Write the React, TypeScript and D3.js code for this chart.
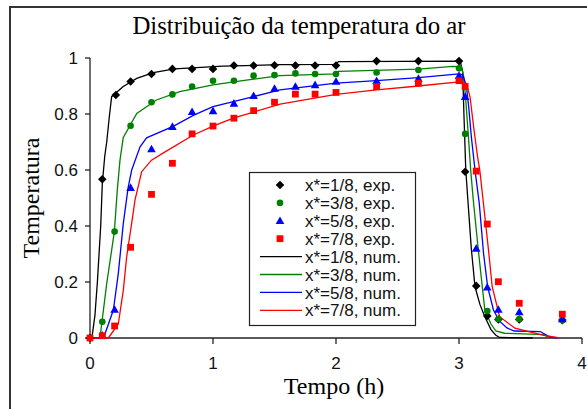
import React from "react";
import * as d3 from "d3";

// ---------- data ----------
const xTicks = [0, 1, 2, 3, 4];
const yTicks = [0, 0.2, 0.4, 0.6, 0.8, 1];
const yTickLabels = ["0", "0.2", "0.4", "0.6", "0.8", "1"];

const exp18: [number, number][] = [
  [0, 0], [0.1, 0.567], [0.21, 0.868], [0.33, 0.916], [0.5, 0.943], [0.67, 0.961], [0.83, 0.961],
  [1.0, 0.961], [1.17, 0.973], [1.33, 0.973], [1.5, 0.974], [1.67, 0.973], [1.83, 0.973], [2.0, 0.973],
  [2.33, 0.989], [2.67, 0.989], [3.0, 0.989], [3.05, 0.594], [3.14, 0.186], [3.23, 0.079],
  [3.32, 0.066], [3.49, 0.066], [3.84, 0.064],
];
const exp38: [number, number][] = [
  [0.1, 0.058], [0.2, 0.38], [0.33, 0.758], [0.5, 0.842], [0.67, 0.87], [0.83, 0.898], [1.0, 0.919],
  [1.17, 0.919], [1.33, 0.937], [1.5, 0.939], [1.67, 0.945], [1.83, 0.943], [2.0, 0.943], [2.33, 0.948],
  [2.67, 0.957], [3.0, 0.963], [3.05, 0.729], [3.23, 0.096], [3.32, 0.068], [3.49, 0.068], [3.84, 0.063],
];
const exp58: [number, number][] = [
  [0.1, 0.01], [0.2, 0.102], [0.33, 0.537], [0.5, 0.675], [0.67, 0.755], [0.83, 0.808], [1.0, 0.811],
  [1.17, 0.838], [1.33, 0.865], [1.5, 0.891], [1.67, 0.898], [1.83, 0.904], [2.0, 0.916], [2.33, 0.919],
  [2.67, 0.927], [3.0, 0.937], [3.05, 0.862], [3.14, 0.32], [3.23, 0.181], [3.32, 0.102], [3.49, 0.093],
  [3.84, 0.068],
];
const exp78: [number, number][] = [
  [0, 0], [0.1, 0.008], [0.2, 0.043], [0.33, 0.324], [0.5, 0.513], [0.67, 0.624], [0.83, 0.729],
  [1.0, 0.757], [1.17, 0.785], [1.33, 0.812], [1.5, 0.842], [1.67, 0.871], [1.83, 0.871], [2.0, 0.877],
  [2.33, 0.898], [2.67, 0.91], [3.0, 0.919], [3.05, 0.898], [3.14, 0.596], [3.23, 0.407], [3.32, 0.201],
  [3.49, 0.124], [3.84, 0.085],
];

const num18: [number, number][] = [
  [0, 0], [0.015, 0], [0.04, 0.08], [0.06, 0.2], [0.087, 0.4], [0.1, 0.55], [0.12, 0.65], [0.136, 0.7],
  [0.157, 0.79], [0.176, 0.862], [0.27, 0.898], [0.38, 0.927], [0.515, 0.948], [0.686, 0.961],
  [1.08, 0.971], [1.545, 0.976], [2.0, 0.977], [2.02, 0.987], [3.01, 0.989], [3.03, 0.95], [3.04, 0.8],
  [3.055, 0.6], [3.075, 0.475], [3.1, 0.32], [3.13, 0.183], [3.17, 0.12], [3.21, 0.076], [3.26, 0.03],
  [3.3, 0.01], [3.33, 0.002], [3.6, 0],
];
const num38: [number, number][] = [
  [0, 0], [0.081, 0], [0.136, 0.195], [0.176, 0.314], [0.198, 0.38], [0.222, 0.529], [0.244, 0.636],
  [0.27, 0.715], [0.38, 0.802], [0.54, 0.85], [0.73, 0.88], [1.0, 0.904], [1.27, 0.921], [1.545, 0.937],
  [2.0, 0.943], [2.02, 0.952], [2.67, 0.96], [2.95, 0.97], [3.02, 0.968], [3.04, 0.93], [3.055, 0.85],
  [3.075, 0.729], [3.095, 0.6], [3.116, 0.493], [3.157, 0.314], [3.21, 0.1], [3.26, 0.05], [3.3, 0.025],
  [3.37, 0.017], [3.7, 0.012], [3.72, 0],
];
const num58: [number, number][] = [
  [0, 0], [0.11, 0], [0.19, 0.1], [0.23, 0.23], [0.271, 0.41], [0.31, 0.537], [0.339, 0.6],
  [0.407, 0.683], [0.46, 0.715], [0.68, 0.757], [0.84, 0.795], [1.0, 0.826], [1.165, 0.844],
  [1.33, 0.862], [1.545, 0.886], [2.0, 0.91], [2.33, 0.919], [2.67, 0.93], [3.0, 0.943], [3.03, 0.94],
  [3.06, 0.9], [3.08, 0.82], [3.1, 0.72], [3.13, 0.6], [3.165, 0.48], [3.2, 0.3], [3.233, 0.183],
  [3.28, 0.1], [3.33, 0.06], [3.39, 0.036], [3.45, 0.025], [3.66, 0.023], [3.74, 0.003], [3.8, 0],
];
const num78: [number, number][] = [
  [0, 0], [0.149, 0], [0.23, 0.05], [0.271, 0.171], [0.298, 0.29], [0.339, 0.41], [0.366, 0.493],
  [0.42, 0.594], [0.5, 0.635], [0.6, 0.662], [0.84, 0.725], [1.0, 0.757], [1.165, 0.785],
  [1.33, 0.807], [1.545, 0.835], [2.0, 0.87], [2.33, 0.886], [2.67, 0.9], [3.0, 0.915], [3.06, 0.91],
  [3.09, 0.86], [3.12, 0.75], [3.15, 0.65], [3.17, 0.596], [3.2, 0.475], [3.24, 0.314], [3.27, 0.183],
  [3.33, 0.076], [3.455, 0.035], [3.68, 0.01], [3.82, 0],
];

const seriesNames = ["x*=1/8", "x*=3/8", "x*=5/8", "x*=7/8"];
const colors = ["#000000", "#008000", "#0000ff", "#ff0000"];
const shapes = ["diamond", "circle", "triangle", "square"];
const expSeries = [exp18, exp38, exp58, exp78];
const numSeries = [num18, num38, num58, num78];

// ---------- drawing ----------
const W = 587;
const H = 409;
const x = d3.scaleLinear().domain([0, 4]).range([90, 582]);
const y = d3.scaleLinear().domain([0, 1]).range([338, 58]);

function markerPath(shape: string): string {
  switch (shape) {
    case "diamond":
      return "M0,-4.3L4.3,0L0,4.3L-4.3,0Z";
    case "circle":
      return "M3.3,0A3.3,3.3 0 1,1 -3.3,0A3.3,3.3 0 1,1 3.3,0Z";
    case "triangle":
      return "M0,-4.3L4.3,3.3L-4.3,3.3Z";
    default:
      return "M-3.4,-3.4L3.4,-3.4L3.4,3.4L-3.4,3.4Z";
  }
}

const line = d3
  .line<[number, number]>()
  .x((d) => x(d[0]))
  .y((d) => y(d[1]));

const SANS = "'Liberation Sans', Arial, sans-serif";
const SERIF = "'Liberation Serif', 'Times New Roman', serif";

export default function App() {
  const legendRows = [
    ...seriesNames.map((n, i) => ({ label: `${n}, exp.`, kind: "marker", i })),
    ...seriesNames.map((n, i) => ({ label: `${n}, num.`, kind: "line", i })),
  ];
  return (
    <svg
      width={W}
      height={H}
      style={{ position: "fixed", left: 0, top: 0, background: "#fff" }}
    >
      <rect x={0} y={0} width={W} height={H} fill="#fff" />
      {/* outer chart frame */}
      <path d={`M10,${H}L10,7L${W},7`} fill="none" stroke="#333" strokeWidth={2} />

      {/* title */}
      <text x={299} y={34} textAnchor="middle" fontFamily={SERIF} fontSize={24.8} fill="#000">
        Distribuição da temperatura do ar
      </text>

      {/* axes */}
      <line x1={x(0)} x2={x(0)} y1={y(1)} y2={y(0)} stroke="#222" strokeWidth={1.3} />
      <line x1={x(0)} x2={x(4)} y1={y(0)} y2={y(0)} stroke="#222" strokeWidth={1.3} />
      {yTicks.map((t, i) => (
        <g key={`yt${i}`}>
          <line x1={x(0) - 5} x2={x(0)} y1={y(t)} y2={y(t)} stroke="#222" strokeWidth={1.3} />
          <text
            x={x(0) - 12}
            y={y(t)}
            dy="0.35em"
            textAnchor="end"
            fontFamily={SANS}
            fontSize={17}
            fill="#111"
          >
            {yTickLabels[i]}
          </text>
        </g>
      ))}
      {xTicks.map((t) => (
        <g key={`xt${t}`}>
          <line x1={x(t)} x2={x(t)} y1={y(0)} y2={y(0) + 6} stroke="#222" strokeWidth={1.3} />
          <text x={x(t)} y={369} textAnchor="middle" fontFamily={SANS} fontSize={17} fill="#111">
            {t}
          </text>
        </g>
      ))}

      {/* axis titles */}
      <text x={334} y={394} textAnchor="middle" fontFamily={SERIF} fontSize={24} fill="#000">
        Tempo (h)
      </text>
      <text
        transform={`translate(39,${y(0.5)}) rotate(-90)`}
        textAnchor="middle"
        fontFamily={SERIF}
        fontSize={24}
        fill="#000"
      >
        Temperatura
      </text>

      {/* numerical lines */}
      {numSeries.map((s, i) => (
        <path key={`num${i}`} d={line(s) || ""} fill="none" stroke={colors[i]} strokeWidth={1.3} />
      ))}

      {/* experimental markers */}
      {expSeries.map((s, i) => (
        <g key={`exp${i}`} fill={colors[i]}>
          {s.map((d, j) => (
            <path key={j} d={markerPath(shapes[i])} transform={`translate(${x(d[0])},${y(d[1])})`} />
          ))}
        </g>
      ))}

      {/* legend */}
      <rect x={249.5} y={172.5} width={166} height={153} fill="#fff" stroke="#222" strokeWidth={1.2} />
      {legendRows.map((r, k) => {
        const cy = 185 + k * 17.9;
        return (
          <g key={`lg${k}`}>
            {r.kind === "marker" ? (
              <path d={markerPath(shapes[r.i])} transform={`translate(280,${cy})`} fill={colors[r.i]} />
            ) : (
              <line x1={260} x2={302} y1={cy} y2={cy} stroke={colors[r.i]} strokeWidth={1.3} />
            )}
            <text x={305} y={cy} dy="0.36em" fontFamily={SANS} fontSize={17} fill="#111">
              {r.label}
            </text>
          </g>
        );
      })}
    </svg>
  );
}
